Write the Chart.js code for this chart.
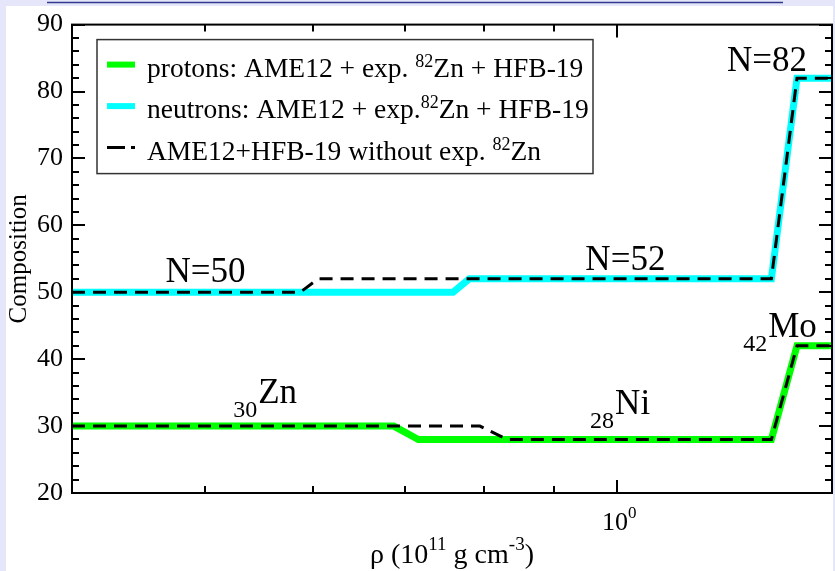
<!DOCTYPE html>
<html>
<head>
<meta charset="utf-8">
<script src="https://cdn.jsdelivr.net/npm/chart.js@4"></script>
<style>
html, body { margin: 0; padding: 0; background: #e6e6fa; }
canvas { display: block; }
</style>
</head>
<body>
<canvas id="compChart" width="835" height="571"></canvas>
<script>
// density in 1e11 g/cm^3 (log axis) vs composition
const protonX = [0.4, 0.687, 0.716, 1.296, 1.353, 1.435];
const protonY = [30, 30, 28, 28, 42, 42];
const neutronX = [0.4, 0.759, 0.780, 1.296, 1.353, 1.435];
const neutronY = [50, 50, 52, 52, 82, 82];
const noExpProtonX = [0.4, 0.794, 0.831, 1.296, 1.353, 1.435];
const noExpProtonY = [30, 30, 28, 28, 42, 42];
const noExpNeutronX = [0.4, 0.587, 0.605, 1.296, 1.353, 1.435];
const noExpNeutronY = [50, 50, 52, 52, 82, 82];

const xMajorTicks = [1];
const xMajorLabels = ['10'];
const xMajorSups = ['0'];
const xMinorTicks = [0.5, 0.6, 0.7, 0.8, 0.9];
const yMajorTicks = [20, 30, 40, 50, 60, 70, 80, 90];
const yMinorTicks = [22, 24, 26, 28, 32, 34, 36, 38, 42, 44, 46, 48, 52, 54, 56, 58,
                     62, 64, 66, 68, 72, 74, 76, 78, 82, 84, 86, 88];

// in-plot labels (left edge, baseline) in data units
const noteSubs = ['', '', '', '42', '30', '28'];
const noteTexts = ['N=50', 'N=52', 'N=82', 'Mo', 'Zn', 'Ni'];
const noteX = [0.468, 0.948, 1.203, 1.236, 0.5245, 0.9556];
const noteY = [51.5, 53.4, 83.1, 43.3, 33.4, 31.8];

const SERIF = "'Liberation Serif', 'Times New Roman', serif";

function pts(xs, ys) { return xs.map((x, i) => ({ x: x, y: ys[i] })); }

// draw a run of text pieces with different sizes / vertical offsets
function rich(ctx, parts, x, y) {
    let cx = x;
    parts.forEach(p => {
        ctx.font = p.s + 'px ' + SERIF;
        ctx.fillText(p.t, cx, y + (p.dy || 0));
        cx += ctx.measureText(p.t).width;
    });
    return cx;
}
function richWidth(ctx, parts) {
    let w = 0;
    parts.forEach(p => { ctx.font = p.s + 'px ' + SERIF; w += ctx.measureText(p.t).width; });
    return w;
}

const decor = {
    id: 'decor',
    beforeDraw(chart) {
        const ctx = chart.ctx;
        ctx.save();
        ctx.fillStyle = '#e6e6fa';
        ctx.fillRect(0, 0, chart.width, chart.height);
        ctx.fillStyle = '#ffffff';
        ctx.fillRect(6, 6, chart.width - 8, chart.height - 6);
        ctx.strokeStyle = '#303a8c';
        ctx.lineWidth = 1.5;
        ctx.beginPath(); ctx.moveTo(47, 2.5); ctx.lineTo(783, 2.5); ctx.stroke();
        ctx.restore();
    },
    afterDraw(chart) {
        const ctx = chart.ctx;
        const a = chart.chartArea;
        const xs = chart.scales.x, ys = chart.scales.y;
        ctx.save();
        ctx.strokeStyle = '#000';
        ctx.fillStyle = '#000';
        ctx.lineWidth = 2;
        ctx.strokeRect(a.left, a.top, a.right - a.left, a.bottom - a.top);

        // inward ticks on all four sides
        function xt(v, len) {
            const px = Math.round(xs.getPixelForValue(v));
            ctx.beginPath();
            ctx.moveTo(px, a.bottom); ctx.lineTo(px, a.bottom - len);
            ctx.moveTo(px, a.top); ctx.lineTo(px, a.top + len);
            ctx.stroke();
        }
        function yt(v, len) {
            const py = Math.round(ys.getPixelForValue(v));
            ctx.beginPath();
            ctx.moveTo(a.left, py); ctx.lineTo(a.left + len, py);
            ctx.moveTo(a.right, py); ctx.lineTo(a.right - len, py);
            ctx.stroke();
        }
        xMinorTicks.forEach(v => xt(v, 7));
        xMajorTicks.forEach(v => xt(v, 13));
        yMinorTicks.forEach(v => yt(v, 7));
        yMajorTicks.forEach(v => yt(v, 13));

        // x tick labels 10^0
        ctx.textAlign = 'left';
        ctx.textBaseline = 'alphabetic';
        xMajorTicks.forEach((v, i) => {
            const parts = [{ t: xMajorLabels[i], s: 26 }, { t: xMajorSups[i], s: 17, dy: -12 }];
            const w = richWidth(ctx, parts);
            rich(ctx, parts, xs.getPixelForValue(v) - w / 2 + 2, 530);
        });

        // x axis title
        const title = [
            { t: '\u03c1 (10', s: 28 }, { t: '11', s: 19, dy: -13 },
            { t: ' g cm', s: 28 }, { t: '-3', s: 19, dy: -13 }, { t: ')', s: 28 }
        ];
        const tw = richWidth(ctx, title);
        rich(ctx, title, (a.left + a.right) / 2 - tw / 2, 563);

        // in-plot labels
        noteTexts.forEach((t, i) => {
            const x0 = xs.getPixelForValue(noteX[i]);
            const y0 = ys.getPixelForValue(noteY[i]);
            let cx = x0;
            if (noteSubs[i]) {
                ctx.font = '24px ' + SERIF;
                ctx.fillText(noteSubs[i], cx, y0 + 14);
                cx += ctx.measureText(noteSubs[i]).width + 1;
            }
            ctx.font = '35px ' + SERIF;
            ctx.fillText(t, cx, y0);
        });

        // legend box
        const lx = a.left + 25, ly = a.top + 15, lw = 496, lh = 134;
        ctx.fillStyle = '#fff';
        ctx.fillRect(lx, ly, lw, lh);
        ctx.strokeStyle = '#333';
        ctx.lineWidth = 1.5;
        ctx.strokeRect(lx, ly, lw, lh);
        const rows = [
            { color: '#00ff00', dash: [], width: 6,
              parts: [{ t: 'protons: AME12 + exp. ', s: 27.5 }, { t: '82', s: 18, dy: -10 }, { t: 'Zn + HFB-19', s: 27.5 }] },
            { color: '#00ffff', dash: [], width: 6,
              parts: [{ t: 'neutrons: AME12 + exp.', s: 27.5 }, { t: '82', s: 18, dy: -10 }, { t: 'Zn + HFB-19', s: 27.5 }] },
            { color: '#000', dash: [18, 6], width: 3,
              parts: [{ t: 'AME12+HFB-19 without exp. ', s: 27.5 }, { t: '82', s: 18, dy: -10 }, { t: 'Zn', s: 27.5 }] }
        ];
        rows.forEach((r, i) => {
            const base = ly + 37 + i * 41.5;
            ctx.strokeStyle = r.color;
            ctx.lineWidth = r.width;
            ctx.setLineDash(r.dash);
            ctx.beginPath();
            ctx.moveTo(lx + 10, base - 12); ctx.lineTo(lx + 38, base - 12);
            ctx.stroke();
            ctx.setLineDash([]);
            ctx.fillStyle = '#000';
            rich(ctx, r.parts, lx + 50, base);
        });
        ctx.restore();
    }
};

new Chart(document.getElementById('compChart'), {
    type: 'line',
    data: {
        datasets: [
            { label: 'protons', data: pts(protonX, protonY), borderColor: '#00ff00', borderWidth: 7, order: 1 },
            { label: 'neutrons', data: pts(neutronX, neutronY), borderColor: '#00ffff', borderWidth: 7, order: 1 },
            { label: 'protons no exp', data: pts(noExpProtonX, noExpProtonY), borderColor: '#000', borderWidth: 3, borderDash: [13, 8], order: 0 },
            { label: 'neutrons no exp', data: pts(noExpNeutronX, noExpNeutronY), borderColor: '#000', borderWidth: 3, borderDash: [13, 8], order: 0 }
        ]
    },
    options: {
        responsive: false,
        animation: false,
        devicePixelRatio: 1,
        layout: { padding: { top: 19, right: 3, left: 0, bottom: 0 } },
        elements: { point: { radius: 0 }, line: { tension: 0, fill: false } },
        plugins: { legend: { display: false }, tooltip: { enabled: false } },
        scales: {
            x: {
                type: 'logarithmic', min: 0.4, max: 1.435,
                grid: { display: false }, border: { display: false },
                ticks: { display: false },
                afterFit: s => { s.height = 78; }
            },
            y: {
                min: 20, max: 90,
                grid: { display: false, drawTicks: false }, border: { display: false },
                ticks: { stepSize: 10, padding: 9, color: '#000', font: { family: SERIF, size: 26 } },
                title: { display: true, text: 'Composition', color: '#000', font: { family: SERIF, size: 25 } },
                afterFit: s => { s.width = 72; }
            }
        }
    },
    plugins: [decor]
});
</script>
</body>
</html>
